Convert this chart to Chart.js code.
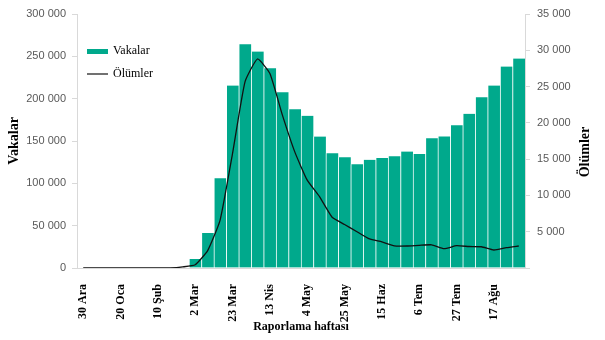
<!DOCTYPE html>
<html>
<head>
<meta charset="utf-8">
<script src="https://cdn.jsdelivr.net/npm/chart.js@4/dist/chart.umd.min.js"></script>
<style>
  html, body { margin: 0; padding: 0; background: #fff; }
  #chart { display: block; }
</style>
</head>
<body>
<canvas id="chart" width="605" height="340"></canvas>
<script>
const weeks = [
  "30 Ara", "6 Oca", "13 Oca", "20 Oca", "27 Oca", "3 Şub", "10 Şub", "17 Şub", "24 Şub",
  "2 Mar", "9 Mar", "16 Mar", "23 Mar", "30 Mar", "6 Nis", "13 Nis", "20 Nis", "27 Nis",
  "4 May", "11 May", "18 May", "25 May", "1 Haz", "8 Haz", "15 Haz", "22 Haz", "29 Haz",
  "6 Tem", "13 Tem", "20 Tem", "27 Tem", "3 Ağu", "10 Ağu", "17 Ağu", "24 Ağu", "31 Ağu"
]

const cases = [
  0, 0, 0, 0, 0, 0, 0, 0, 0,
  10500, 41400, 106000, 215500, 264400, 255700, 236000, 207700, 187600,
  179700, 155200, 135600, 130900, 122600, 127800, 129800, 132000, 137500,
  134600, 153300, 155400, 168600, 182200, 201800, 215500, 237900, 247400
]

const deaths = [
  0, 0, 0, 0, 0, 0, 0, 0, 150,
  450, 2400, 6600, 15800, 25650, 28800, 26800, 21100, 16000,
  12100, 9800, 7000, 6000, 5000, 4000, 3600, 3050, 3030,
  3130, 3200, 2660, 3070, 2960, 2930, 2480, 2800, 3030
]

const labelEvery = 3

function spaced(v) {
  return String(v).replace(/\B(?=(\d{3})+(?!\d))/g, " ")
}

const serif = "'Liberation Serif', 'Times New Roman', serif"
const sans = "'Liberation Sans', Arial, sans-serif"

// legend inside the plot + right-hand title reading upwards
const extras = {
  id: "extras",
  afterDraw(chart) {
    const ctx = chart.ctx
    const ds = chart.data.datasets
    ctx.save()
    ctx.font = "12px " + serif
    ctx.fillStyle = "#000"
    ctx.textBaseline = "middle"
    ctx.textAlign = "left"

    ctx.fillStyle = ds[0].backgroundColor
    ctx.fillRect(87, 49, 21, 5)
    ctx.fillStyle = "#000"
    ctx.fillText(ds[0].label, 113, 51)

    ctx.strokeStyle = ds[1].borderColor
    ctx.lineWidth = 1.2
    ctx.beginPath()
    ctx.moveTo(87, 74)
    ctx.lineTo(108, 74)
    ctx.stroke()
    ctx.fillText(ds[1].label, 113, 74)

    ctx.translate(585, 152)
    ctx.rotate(-Math.PI / 2)
    ctx.textAlign = "center"
    ctx.font = "bold 14px " + serif
    ctx.fillText("Ölümler", 0, 0)
    ctx.restore()
  }
}

const chart = new Chart(document.getElementById("chart").getContext("2d"), {
  type: "bar",
  data: {
    labels: weeks,
    datasets: [
      {
        label: "Vakalar",
        data: cases,
        backgroundColor: "#00a98c",
        borderColor: "rgba(255,255,255,0.6)",
        borderWidth: { top: 0, left: 1, right: 0, bottom: 0 },
        barPercentage: 1,
        categoryPercentage: 1,
        yAxisID: "y",
        order: 2
      },
      {
        type: "line",
        label: "Ölümler",
        data: deaths,
        borderColor: "#111",
        borderWidth: 1.3,
        pointRadius: 0,
        tension: 0.15,
        fill: false,
        yAxisID: "y1",
        order: 1
      }
    ]
  },
  options: {
    responsive: false,
    animation: false,
    layout: { padding: { top: 14, left: 0, right: 0, bottom: 0 } },
    plugins: {
      legend: { display: false },
      tooltip: { enabled: false }
    },
    scales: {
      x: {
        grid: { display: false },
        border: { color: "#d9d9d9" },
        ticks: {
          autoSkip: false,
          minRotation: 90,
          maxRotation: 90,
          padding: 8,
          color: "#000",
          font: { family: serif, size: 12, weight: "bold" },
          callback: (v, i) => (i % labelEvery === 0 ? weeks[i] : "")
        },
        title: {
          display: true,
          text: "Raporlama haftası",
          color: "#000",
          font: { family: serif, size: 12, weight: "bold" },
          padding: { top: 0, bottom: 6 }
        },
        afterFit: s => { s.height = 72 }
      },
      y: {
        position: "left",
        min: 0,
        max: 300000,
        grid: { drawOnChartArea: false, color: "#d9d9d9", tickLength: 5 },
        border: { color: "#d9d9d9" },
        ticks: {
          stepSize: 50000,
          padding: 6,
          color: "#595959",
          font: { family: sans, size: 11 },
          callback: v => spaced(v)
        },
        title: {
          display: true,
          text: "Vakalar",
          color: "#000",
          font: { family: serif, size: 14, weight: "bold" },
          padding: { top: 6, bottom: 0 }
        },
        afterFit: s => { s.width = 77 }
      },
      y1: {
        position: "right",
        min: 0,
        max: 35000,
        grid: { drawOnChartArea: false, color: "#d9d9d9", tickLength: 5 },
        border: { color: "#d9d9d9" },
        ticks: {
          stepSize: 5000,
          padding: 7,
          color: "#595959",
          font: { family: sans, size: 11 },
          callback: v => (v === 0 ? "" : spaced(v))
        },
        afterFit: s => { s.width = 80 }
      }
    }
  },
  plugins: [extras]
})
</script>
</body>
</html>
